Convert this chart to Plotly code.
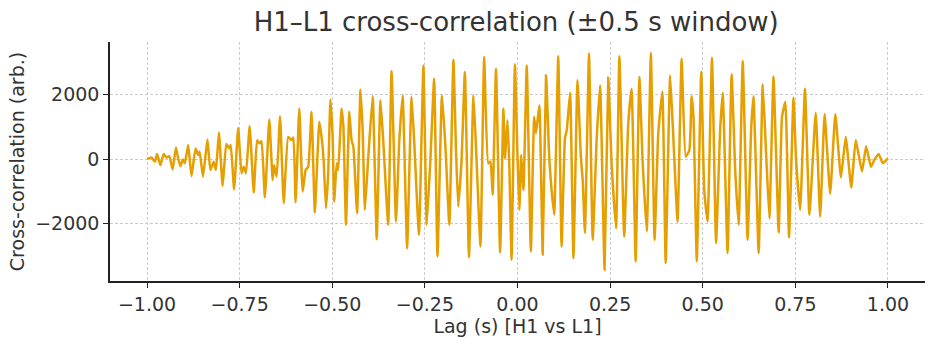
import plotly.graph_objects as go

# Lag (s) and cross-correlation (arb.) at extrema
lag = [
    -1.000, -0.988, -0.979, -0.973, -0.964, -0.955, -0.948, -0.940, -0.931, -0.922,
    -0.916, -0.910, -0.903, -0.898, -0.889, -0.880, -0.869, -0.862, -0.858, -0.849,
    -0.837, -0.829, -0.820, -0.814, -0.806, -0.796, -0.786, -0.778, -0.774, -0.765,
    -0.754, -0.745, -0.739, -0.733, -0.723, -0.712, -0.703, -0.697, -0.691, -0.682,
    -0.670, -0.661, -0.657, -0.650, -0.641, -0.631, -0.619, -0.610, -0.605, -0.599,
    -0.589, -0.580, -0.572, -0.565, -0.556, -0.547, -0.535,
    -0.526, -0.523, -0.517, -0.511, -0.505, -0.499, -0.495, -0.488, -0.484, -0.475,
    -0.470, -0.463, -0.454, -0.448, -0.443, -0.433, -0.424, -0.418, -0.412, -0.403,
    -0.391, -0.380, -0.370, -0.362, -0.349, -0.340, -0.328, -0.319, -0.310, -0.298,
    -0.286, -0.279, -0.266, -0.254, -0.245, -0.235, -0.225, -0.216, -0.204, -0.195,
    -0.184, -0.173, -0.166, -0.160, -0.151, -0.142, -0.131, -0.119, -0.112, -0.100,
    -0.090, -0.079, -0.073, -0.067, -0.058, -0.047,
    -0.038, -0.034, -0.027, -0.022, -0.016, -0.007, 0.000, 0.005, 0.010, 0.016,
    0.025, 0.036, 0.045, 0.050, 0.059, 0.068, 0.077, 0.086, 0.092, 0.099,
    0.110, 0.119, 0.128, 0.133, 0.142, 0.151, 0.162, 0.171, 0.176, 0.182,
    0.193, 0.203, 0.214, 0.223, 0.235, 0.245, 0.254, 0.266, 0.275, 0.288,
    0.299, 0.308, 0.319, 0.329, 0.338, 0.349, 0.360, 0.370, 0.380, 0.391,
    0.400, 0.412, 0.421, 0.432, 0.443, 0.454, 0.464,
    0.470, 0.475, 0.484, 0.496, 0.504, 0.513, 0.525, 0.536, 0.547, 0.554,
    0.567, 0.578, 0.588, 0.597, 0.608, 0.621, 0.631, 0.637, 0.651, 0.662,
    0.671, 0.680, 0.691, 0.705, 0.714, 0.723, 0.733, 0.745, 0.752, 0.763,
    0.776, 0.788, 0.805, 0.817, 0.829, 0.844, 0.858, 0.873, 0.886, 0.901,
    0.913, 0.930, 0.941, 0.954, 0.963, 0.975, 0.986, 1.000,
]
xcorr = [
    0, 50, -80, 160, -190, 160, 50, 90, -320, 360,
    20, -220, -10, -130, 440, -530, 330, 130, 230, -550,
    610, -340, -80, -340, 830, -830, 470, 330, 440, -940,
    970, -440, -240, -440, 1020, -1040, 590, 490, 560, -1190,
    1230, -650, -190, -550, 1330, -1370, 690, 590, 670, -1340,
    1570, -1010, -340, -240, 1470, -1660, 1160,
    380, -130, -1530, -440, 1850, 690, -1320, -130, -340, 1570,
    1000, -2040, 1470, 590, 380, -1680, 2160, 900, -1580, 20,
    1950, -2490, 1830, 490, -2040, 2740, -1940, 590, 1980, -2770,
    1930, 590, -2350, 2910, -2040, 20, 2500, -3030, 1980, 490,
    -2040, 3090, 280, -1480, -30, 2710, -3050, 1980, 380, -2720,
    3170, -130, -80, -1110, 2810, -2900,
    1570, 20, 1210, -240, -3130, 2950, 70, -1580, 130, -960,
    2910, -2870, 1310, 800, 1670, -2970, 2600, -30, -960, -1730,
    3200, -2720, 640, 900, 2060, -3080, 2450, 70, -650, -2300,
    3280, -2510, 690, 2290, -3440, 2530, -130, -2150, 3200, -2410,
    1110, 2190, -3180, 2550, -130, -2250, 3300, -2510, 800, 2090,
    -3230, 2600, 590, -1940, 3120, 70, 280,
    1950, 1310, -3180, 2710, -960, -1940, 3150, -2610, 900, 2060,
    -2920, 2635, -440, -2040, 3050, -2510, 1000, 1950, -2920, 2325,
    180, -1840, 2570, -2280, 1310, 1780, -2430, 1910, -30, -1580,
    2190, -1730, 1440, -1790, 1400, -1080, 1400, -570, 690, -880,
    590, -390, 400, -240, -30, 160, -130, 20,
]

x_ticks = [-1.0, -0.75, -0.5, -0.25, 0.0, 0.25, 0.5, 0.75, 1.0]
y_ticks = [-2000, 0, 2000]

fig = go.Figure(
    go.Scatter(
        x=lag, y=xcorr, mode="lines",
        line=dict(color="#E69F00", width=2.5, shape="spline", smoothing=0.4),
        showlegend=False,
    )
)

font_family = "DejaVu Sans"
txt = "#333333"
fig.update_layout(
    width=936, height=344,
    margin=dict(l=110, r=11, t=42, b=63),
    paper_bgcolor="white", plot_bgcolor="white",
    font=dict(family=font_family, size=19, color=txt),
    title=dict(text="H1–L1 cross-correlation (±0.5 s window)",
               x=0.5515, xanchor="center", y=0.935, yanchor="middle",
               font=dict(size=26, color=txt)),
)
fig.update_xaxes(
    range=[-1.1, 1.1], tickvals=x_ticks, tickformat=".2f",
    showgrid=True, gridcolor="#cccccc", griddash="3px,2px", gridwidth=0.8,
    zeroline=False, showline=True, linecolor="#222222", linewidth=1.5,
    ticks="outside", ticklen=5, tickcolor="#222222",
    title=dict(text="Lag (s) [H1 vs L1]", font=dict(size=19), standoff=2),
)
fig.update_yaxes(
    range=[-3790, 3640], tickvals=y_ticks,
    showgrid=True, gridcolor="#cccccc", griddash="3px,2px", gridwidth=0.8,
    zeroline=False, showline=True, linecolor="#222222", linewidth=1.5,
    ticks="outside", ticklen=5, tickcolor="#222222",
    title=dict(text="Cross-correlation (arb.)", font=dict(size=19), standoff=6),
)

fig.write_html("out.html")
